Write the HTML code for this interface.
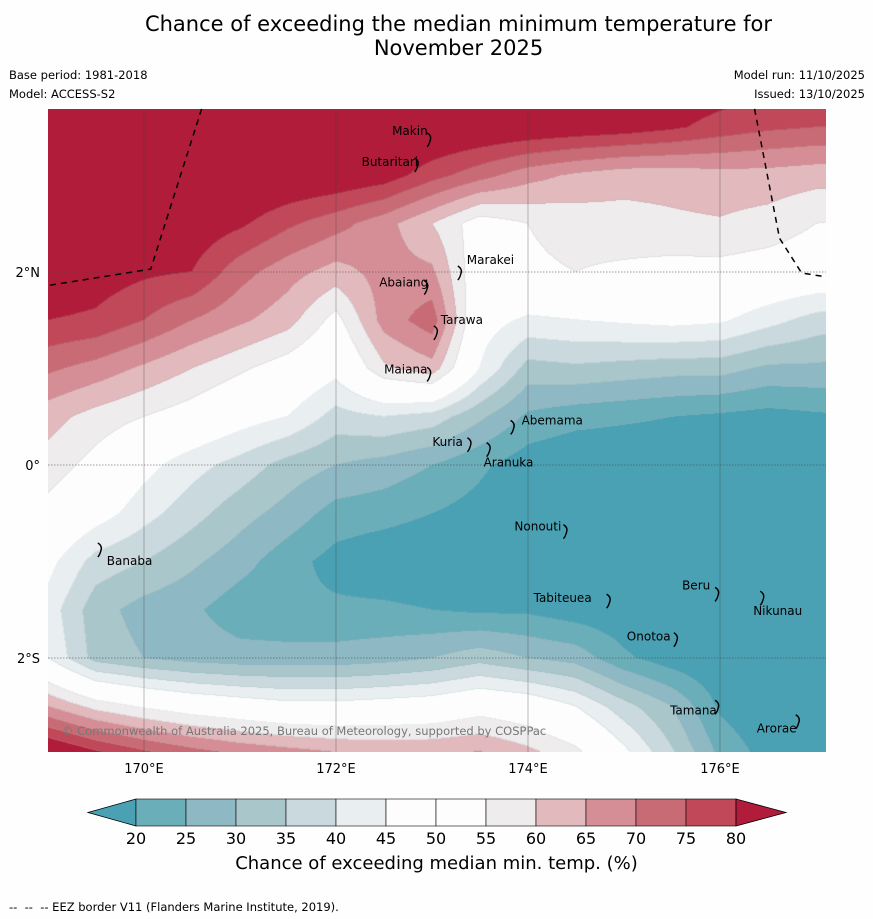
<!DOCTYPE html>
<html><head><meta charset="utf-8">
<style>
html,body{margin:0;padding:0;background:#fefefe;}
body{width:873px;height:919px;position:relative;overflow:hidden;font-family:"DejaVu Sans","Liberation Sans",sans-serif;color:#000;}
.t{position:absolute;white-space:nowrap;}
#map{position:absolute;left:48px;top:109px;}
svg{position:absolute;left:0;top:0;}
</style></head><body>
<div class="t" style="left:0;width:917px;top:12px;text-align:center;font-size:21px;line-height:24px;">Chance of exceeding the median minimum temperature for<br>November 2025</div>
<div class="t" style="left:9px;top:68px;font-size:11.5px;">Base period: 1981-2018</div>
<div class="t" style="left:9px;top:87px;font-size:11.5px;">Model: ACCESS-S2</div>
<div class="t" style="right:8px;top:68px;font-size:11.5px;">Model run: 11/10/2025</div>
<div class="t" style="right:8px;top:87px;font-size:11.5px;">Issued: 13/10/2025</div>

<canvas id="map" width="778" height="643"></canvas>
<svg id="ov" width="873" height="919"></svg>

<div class="t" style="left:62px;top:724px;font-size:11.5px;color:#777;">© Commonwealth of Australia 2025, Bureau of Meteorology, supported by COSPPac</div>
<div class="t" style="left:0;width:873px;text-align:center;top:853px;font-size:18px;">Chance of exceeding median min. temp. (%)</div>
<div class="t" style="left:9px;top:900px;font-size:11.5px;">-- &nbsp;-- &nbsp;-- EEZ border V11 (Flanders Marine Institute, 2019).</div>

<script>
// ---- data ----
const lons = [169,169.5,170,170.5,171,171.5,172,172.5,173,173.5,174,174.5,175,175.5,176,176.5,177,177.5];
const lats = [4,3.5,3,2.5,2,1.5,1,0.5,0,-0.5,-1,-1.5,-2,-2.5,-3];
const r4  = [88,88,88,88,88,88,88,88,88,87,86,86,86,85,84,83,82,82];
const r35 = [88,88,88,88,88,88,88,88,87,86,85,84,83,81,78,76,75,75];
const r3  = [88,88,88,88,87,86,85,83,77,72,67,64,62,62,63,63,62,62];
const r25 = [88,88,86,84,81,76,72,67,60,52,55,57,58,59,59.5,58,55,54];
const r2  = [85,83,81,80,72,67,63,67,66,50,54,55,54,53,53,52,51,51];
const r15 = [80,79,75,70,66,62,53,67,73,48,44,45,46,47,46,42,38,36];
const r1  = [71,68,64,60,56,52,47,59,63,45,33,34,33,32,32,29,29,28];
const r05 = [62,58,55,52,48,45,38,40,38,31,24,22,21,20,19,18,19,20];
const r0  = [58,53,47,42,38,33,30,28,25,21,17,15,15,15,15,15,15,16];
const rm05= [53,48,42,37,32,28,23,22,20,18,15,14,14,14,14,14,14,14];
const rm1 = [47,38,35,31,27,22,18,16,15,15,15,14,14,14,14,14,14,14];
const rm15= [43,32,28,26,22,21,21,21,20,19,19,17,16,15,15,15,15,15];
const rm2 = [45,33,30,28,27,27,27,28,30,33,30,28,21,17,15,15,15,15];
const rm25= [65,58,54,51,49,47,47,48,49,52,50,45,37,30,19,15,15,15];
const rm3 = [88,82,77,73,70,68,66,65,65,66,62,57,47,36,24,18,15,15];
const grid = [r4,r35,r3,r25,r2,r15,r1,r05,r0,rm05,rm1,rm15,rm2,rm25,rm3];
const levels = [20,25,30,35,40,45,50,55,60,65,70,75,80];
const cbLabels = ["20","25","30","35","40","45","50","55","60","65","70","75","80"];
const lonTicks = [170,172,174,176];
const lonTickLabels = ["170°E","172°E","174°E","176°E"];
const latTicks = [2,0,-2];
const latTickLabels = ["2°N","0°","2°S"];
const islands = [
 ["Makin",172.98,3.38,-38,-8],["Butaritari",172.85,3.12,-56,-2],["Marakei",173.3,2.0,6,-12],
 ["Abaiang",172.95,1.85,-48,-4],["Tarawa",173.05,1.38,4,-12],["Maiana",172.98,0.95,-46,-4],
 ["Abemama",173.85,0.4,8,-6],["Kuria",173.4,0.22,-38,-2],["Aranuka",173.6,0.17,-6,14],
 ["Nonouti",174.4,-0.68,-52,-4],["Banaba",169.55,-0.87,6,12],["Tabiteuea",174.85,-1.4,-76,-2],
 ["Beru",175.98,-1.33,-36,-8],["Nikunau",176.45,-1.37,-10,14],["Onotoa",175.55,-1.8,-50,-2],
 ["Tamana",175.98,-2.5,-48,4],["Arorae",176.82,-2.65,-42,8]
];
const eezLeft = [[170.6,3.69],[170.07,2.03],[169.0,1.86]];
const eezRight = [[176.36,3.69],[176.62,2.35],[176.85,1.99],[177.1,1.95]];
// ---- scales ----
const X0=48,Y0=109,W=778,H=643;
function xScale(lon){return 48+(lon-169)*96;}
function yScale(lat){return 465-lat*96.5;}
function bandIdx(v){let i=0; while(i<levels.length && v>=levels[i]) i++; if(i===7)i=6; return i;}
const palette=[[74,161,179],[106,174,185],[141,184,196],[169,199,203],[202,217,222],[233,239,241],[253,253,253],[253,253,253],[238,236,237],[226,185,189],[214,142,150],[201,107,117],[192,72,88],[176,28,58]];
function valueAt(lon,lat){
  let c=(lon-lons[0])/0.5, r=(lats[0]-lat)/0.5;
  c=Math.max(0,Math.min(lons.length-1.001,c)); r=Math.max(0,Math.min(lats.length-1.001,r));
  const c0=Math.floor(c),r0=Math.floor(r),fc=c-c0,fr=r-r0;
  const a=grid[r0][c0],b=grid[r0][c0+1],d=grid[r0+1][c0],e=grid[r0+1][c0+1];
  return (a*(1-fc)+b*fc)*(1-fr)+(d*(1-fc)+e*fc)*fr;
}
// ---- render field ----
const cv=document.getElementById('map'),ctx=cv.getContext('2d');
const img=ctx.createImageData(W,H);
const idx=new Int8Array(W*H);
for(let py=0;py<H;py++){const lat=(465-(Y0+py+0.5))/96.5;
  for(let px=0;px<W;px++){const lon=169+(X0+px+0.5-48)/96; idx[py*W+px]=bandIdx(valueAt(lon,lat));}}
for(let py=0;py<H;py++)for(let px=0;px<W;px++){
  const k=py*W+px,b=idx[k];let c=palette[b];
  const edge=(px<W-1&&idx[k+1]!==b)||(py<H-1&&idx[k+W]!==b);
  let r=c[0],g=c[1],bb=c[2];
  if(edge){r=r*0.82+150*0.18;g=g*0.82+170*0.18;bb=bb*0.82+180*0.18;}
  img.data[k*4]=r;img.data[k*4+1]=g;img.data[k*4+2]=bb;img.data[k*4+3]=255;}
ctx.putImageData(img,0,0);
// ---- overlay ----
const ns="http://www.w3.org/2000/svg",ov=document.getElementById('ov');
function mk(tag,attrs){const e=document.createElementNS(ns,tag);for(const k in attrs)e.setAttribute(k,attrs[k]);ov.appendChild(e);return e;}
lonTicks.forEach((t,i)=>{
  const l=mk('line',{x1:xScale(t),x2:xScale(t),y1:Y0,y2:Y0+H,stroke:'#444','stroke-width':0.6,'stroke-opacity':0.6});
  
  
  const tx=mk('text',{x:xScale(t),y:773,'text-anchor':'middle','font-size':13,'font-family':'DejaVu Sans, sans-serif'});
  tx.textContent=lonTickLabels[i];
  
  
});
latTicks.forEach((t,i)=>{
  const l=mk('line',{x1:X0,x2:X0+W,y1:yScale(t),y2:yScale(t),stroke:'#444','stroke-width':0.7,'stroke-dasharray':'1.5,1.5','stroke-opacity':0.7});
  
  
  const tx=mk('text',{x:40,y:yScale(t)+5,'text-anchor':'end','font-size':13,'font-family':'DejaVu Sans, sans-serif'});
  tx.textContent=latTickLabels[i];
  
  
});
[eezLeft,eezRight].forEach(seg=>{
  const p=mk('polyline',{points:seg.map(q=>xScale(q[0])+','+yScale(q[1])).join(' '),fill:'none',stroke:'#000','stroke-width':1.5,'stroke-dasharray':'6,5'});
  
  
});
islands.forEach(s=>{
  const x=xScale(s[1]),y=yScale(s[2]);
  const m=mk('path',{d:`M${x-3},${y-6} q5,3 3,8 q-1,4 -3,6`,fill:'none',stroke:'#000','stroke-width':1.4});
  
  
  const tx=mk('text',{x:x+s[3],y:y+s[4]+4,'font-size':12,'font-family':'DejaVu Sans, sans-serif'});
  tx.textContent=s[0];
  
  
});
// ---- colorbar ----
const cbX0=136,cbW=50,cbY=799,cbH=27;
const cbCols=["#6aaeb9","#8db8c4","#a9c7cb","#cad9de","#e9eff1","#fdfdfd","#fdfdfd","#eeeced","#e2b9bd","#d68e96","#c96b75","#c04858"];
let lt=mk('polygon',{points:`${cbX0},${cbY} ${cbX0},${cbY+cbH} 88,${cbY+cbH/2}`,fill:'#4aa1b3',stroke:'#000','stroke-width':0.8});


cbCols.forEach((c,i)=>{
  const r=mk('rect',{x:cbX0+i*cbW,y:cbY,width:cbW,height:cbH,fill:c,stroke:'#000','stroke-width':0.6});
  
  
});
const xe=cbX0+cbCols.length*cbW;
let rt=mk('polygon',{points:`${xe},${cbY} ${xe},${cbY+cbH} 786,${cbY+cbH/2}`,fill:'#b01c3a',stroke:'#000','stroke-width':0.8});


cbLabels.forEach((t,i)=>{
  const tx=mk('text',{x:cbX0+i*cbW,y:844,'text-anchor':'middle','font-size':16,'font-family':'DejaVu Sans, sans-serif'});
  tx.textContent=t;
  
  
});
</script>
</body></html>
